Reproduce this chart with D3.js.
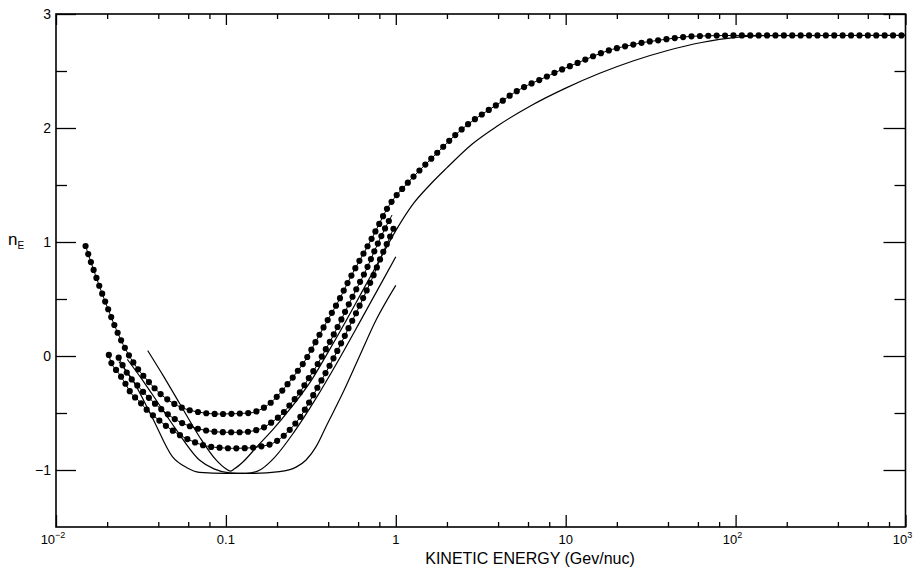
<!DOCTYPE html>
<meta charset="utf-8">
<style>
body { margin: 0; background: #fff; }
svg { font-family: "Liberation Sans", Arial, sans-serif; }
.frame { fill: none; stroke: #000; stroke-width: 1.6px; }
.tick line { stroke: #000; stroke-width: 1.3px; }
.solid { fill: none; stroke: #000; stroke-width: 1.2px; }
.thread { fill: none; stroke: #000; stroke-width: 1px; }
.beads { fill: none; stroke: #000; stroke-width: 6.2px; stroke-linecap: round; stroke-dasharray: 0 8.4; }
</style>
<svg width="920" height="568"></svg>
<script src="https://d3js.org/d3.v7.min.js"></script>
<script>
// every point is [log10 of kinetic energy (GeV/nuc), n_E]

// dotted curves
var dottedUpper = [
  [-1.826, 0.965], [-1.784, 0.778], [-1.740, 0.594], [-1.695, 0.418], [-1.646, 0.234],
  [-1.591, 0.061], [-1.528, -0.094], [-1.460, -0.217], [-1.385, -0.333], [-1.284, -0.436],
  [-1.140, -0.497], [-1.038, -0.509], [-0.944, -0.506], [-0.846, -0.497], [-0.803, -0.474],
  [-0.740, -0.415], [-0.662, -0.292], [-0.591, -0.158], [-0.528, -0.026], [-0.479, 0.105],
  [-0.434, 0.228], [-0.387, 0.351], [-0.336, 0.485], [-0.293, 0.614], [-0.244, 0.754],
  [-0.195, 0.886], [-0.146, 1.018], [-0.097, 1.160], [-0.058, 1.275], [-0.009, 1.385],
  [0.040, 1.470], [0.105, 1.575], [0.181, 1.690], [0.256, 1.801], [0.344, 1.930],
  [0.432, 2.041], [0.531, 2.143], [0.613, 2.222], [0.691, 2.304], [0.775, 2.374],
  [0.858, 2.430], [0.962, 2.503], [1.064, 2.567], [1.174, 2.637], [1.275, 2.690],
  [1.378, 2.725], [1.472, 2.754], [1.531, 2.766], [1.650, 2.790], [1.750, 2.805],
  [2.000, 2.812], [3.000, 2.812]
];
var dottedMiddle = [
  [-1.631, -0.015], [-1.578, -0.158], [-1.515, -0.269], [-1.440, -0.386], [-1.362, -0.489],
  [-1.284, -0.568], [-1.195, -0.625], [-1.097, -0.658], [-0.999, -0.669], [-0.920, -0.669],
  [-0.803, -0.643], [-0.725, -0.576], [-0.666, -0.503], [-0.616, -0.415], [-0.568, -0.327],
  [-0.519, -0.210], [-0.469, -0.094], [-0.420, 0.038], [-0.372, 0.169], [-0.322, 0.316],
  [-0.274, 0.462], [-0.225, 0.608], [-0.175, 0.754], [-0.132, 0.900], [-0.087, 1.046],
  [-0.048, 1.164], [-0.022, 1.237]
];
var dottedLower = [
  [-1.689, 0.009], [-1.675, -0.058], [-1.646, -0.123], [-1.617, -0.181], [-1.587, -0.254],
  [-1.558, -0.327], [-1.513, -0.392], [-1.474, -0.459], [-1.431, -0.518], [-1.391, -0.567],
  [-1.352, -0.614], [-1.303, -0.664], [-1.254, -0.708], [-1.205, -0.743], [-1.156, -0.772],
  [-1.097, -0.795], [-1.038, -0.804], [-0.960, -0.810], [-0.880, -0.808], [-0.803, -0.795],
  [-0.725, -0.766], [-0.666, -0.708], [-0.616, -0.634], [-0.568, -0.547], [-0.519, -0.430],
  [-0.469, -0.298], [-0.420, -0.167], [-0.372, -0.035], [-0.322, 0.111], [-0.274, 0.257],
  [-0.225, 0.404], [-0.175, 0.564], [-0.126, 0.725], [-0.078, 0.900], [-0.038, 1.032],
  [-0.009, 1.134]
];

// solid curves
var solidLong = [
  [-1.460, 0.047], [-1.370, -0.170], [-1.273, -0.415], [-1.156, -0.708], [-1.058, -0.912],
  [-1.000, -0.990], [-0.975, -1.010], [-0.950, -0.990], [-0.900, -0.930], [-0.820, -0.800],
  [-0.720, -0.640], [-0.620, -0.460], [-0.500, -0.220], [-0.400, 0.030], [-0.300, 0.290],
  [-0.200, 0.560], [-0.100, 0.830], [0.000, 1.100], [0.100, 1.330], [0.200, 1.500],
  [0.300, 1.650], [0.450, 1.860], [0.600, 2.020], [0.800, 2.200], [1.000, 2.350],
  [1.200, 2.480], [1.400, 2.590], [1.600, 2.680], [1.800, 2.750], [2.000, 2.795],
  [2.200, 2.810], [3.000, 2.812]
];
var solidMid = [
  [-1.580, -0.030], [-1.491, -0.211], [-1.400, -0.410], [-1.300, -0.630], [-1.156, -0.912],
  [-1.070, -0.990], [-0.980, -1.025], [-0.880, -1.030], [-0.800, -1.000], [-0.720, -0.900],
  [-0.600, -0.670], [-0.469, -0.370], [-0.350, -0.070], [-0.200, 0.330], [-0.100, 0.600],
  [0.000, 0.870]
];
var solidFlat = [
  [-1.630, -0.050], [-1.549, -0.211], [-1.430, -0.550], [-1.315, -0.883], [-1.230, -0.980],
  [-1.156, -1.020], [-1.000, -1.030], [-0.842, -1.030], [-0.685, -1.015], [-0.587, -0.975],
  [-0.528, -0.912], [-0.469, -0.795], [-0.411, -0.620], [-0.313, -0.327], [-0.215, -0.006],
  [-0.116, 0.316], [0.000, 0.620]
];

// axes
var xDecades = [0.01, 0.1, 1, 10, 100, 1000];
var xMinorSteps = [2, 4, 6, 8];
var xLabels = [
  {v: 0.01, base: "10", sup: "\u22122"}, {v: 0.1, base: "0.1"}, {v: 1, base: "1"},
  {v: 10, base: "10"}, {v: 100, base: "10", sup: "2"}, {v: 1000, base: "10", sup: "3"}
];
var yMajor = [-1, 0, 1, 2, 3];
var yMinor = [-0.5, 0.5, 1.5, 2.5];
var yLabels = ["\u22121", "0", "1", "2", "3"];

var svg = d3.select("svg"),
    plotL = 56, plotR = 905.5, plotT = 14, plotB = 527;

var x = d3.scaleLog().domain([0.01, 1000]).range([plotL, plotR]),
    y = d3.scaleLinear().domain([-1.5, 3]).range([plotB, plotT]);

var xMinor = [];
xDecades.slice(0, -1).forEach(function(d) {
  xMinorSteps.forEach(function(m) { xMinor.push(d * m); });
});

function tickAxis(axis, pos, vals, size) {
  var g = svg.append("g")
      .attr("transform", pos)
      .call(axis.tickValues(vals).tickSize(-size).tickFormat(""));
  g.select(".domain").remove();
}

tickAxis(d3.axisBottom(x), "translate(0," + plotB + ")", xDecades, 12);
tickAxis(d3.axisBottom(x), "translate(0," + plotB + ")", xMinor, 5);
tickAxis(d3.axisTop(x), "translate(0," + plotT + ")", xDecades, 11);
tickAxis(d3.axisTop(x), "translate(0," + plotT + ")", xMinor, 5);
tickAxis(d3.axisLeft(y), "translate(" + plotL + ",0)", yMajor, 20);
tickAxis(d3.axisLeft(y), "translate(" + plotL + ",0)", yMinor, 11);
tickAxis(d3.axisRight(y), "translate(" + plotR + ",0)", yMajor, 22);
tickAxis(d3.axisRight(y), "translate(" + plotR + ",0)", yMinor, 11);

svg.append("rect")
    .attr("class", "frame")
    .attr("x", plotL).attr("y", plotT)
    .attr("width", plotR - plotL).attr("height", plotB - plotT);

// tick labels
var xt = svg.selectAll(".xlab")
    .data(xLabels)
  .enter().append("text")
    .attr("class", "xlab")
    .attr("x", function(d) { return x(d.v) + (d.sup ? -3 : 0); })
    .attr("y", plotB + 17)
    .attr("text-anchor", "middle")
    .style("font-size", "13px");
xt.append("tspan").text(function(d) { return d.base; });
xt.filter(function(d) { return d.sup; }).append("tspan")
    .attr("dy", -6)
    .style("font-size", "9px")
    .text(function(d) { return d.sup; });

svg.selectAll(".ylab")
    .data(yMajor)
  .enter().append("text")
    .attr("class", "ylab")
    .attr("x", plotL - 5)
    .attr("y", function(d) { return y(d) + 5; })
    .attr("text-anchor", "end")
    .style("font-size", "14px")
    .text(function(d, i) { return yLabels[i]; });

var yt = svg.append("text")
    .attr("x", 8)
    .attr("y", y(1) + 3)
    .style("font-size", "17px");
yt.append("tspan").text("n");
yt.append("tspan").attr("dy", 4).style("font-size", "10px").text("E");

svg.append("text")
    .attr("x", 530)
    .attr("y", 564)
    .attr("text-anchor", "middle")
    .style("font-size", "16px")
    .text("KINETIC ENERGY (Gev/nuc)");

// curves
var line = d3.line()
    .curve(d3.curveMonotoneX)
    .x(function(d) { return x(Math.pow(10, d[0])); })
    .y(function(d) { return y(d[1]); });

[solidLong, solidMid, solidFlat].forEach(function(s) {
  svg.append("path").attr("class", "solid").attr("d", line(s));
});

[dottedUpper, dottedMiddle, dottedLower].forEach(function(s) {
  svg.append("path").attr("class", "thread").attr("d", line(s));
  svg.append("path").attr("class", "beads").attr("d", line(s));
});
</script>
